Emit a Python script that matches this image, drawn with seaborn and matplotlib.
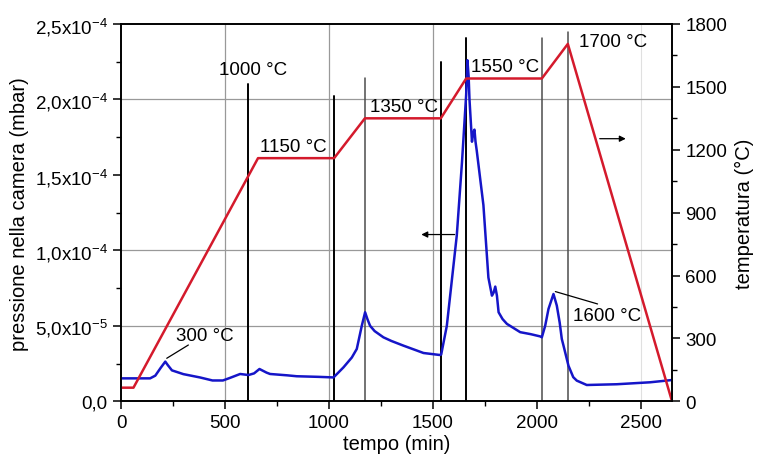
import numpy as np
import pandas as pd
import seaborn as sns
import matplotlib.pyplot as plt
from matplotlib.ticker import MultipleLocator, FuncFormatter

# pressure in the chamber (left axis, mbar)
tempo_p = [0, 140, 165, 190, 213, 225, 245, 300, 380, 440, 490, 524, 573, 613, 640, 666,
           700, 717, 800, 845, 950, 1006, 1022, 1045, 1070, 1110, 1134, 1158, 1174, 1185,
           1198, 1220, 1262, 1300, 1358, 1455, 1532, 1540, 1567, 1599, 1615, 1640, 1660,
           1666, 1672, 1676, 1688, 1694, 1700, 1705, 1711, 1743, 1767, 1784, 1792, 1800,
           1808, 1816, 1835, 1856, 1920, 1970, 2016, 2024, 2040, 2056, 2080, 2096, 2110,
           2120, 2128, 2152, 2175, 2192, 2240, 2384, 2545, 2650]
pressione = [0.152, 0.152, 0.17, 0.22, 0.263, 0.24, 0.205, 0.18, 0.158, 0.138, 0.138, 0.155,
             0.181, 0.174, 0.185, 0.214, 0.19, 0.181, 0.172, 0.166, 0.162, 0.159, 0.158,
             0.19, 0.225, 0.29, 0.347, 0.50, 0.59, 0.545, 0.50, 0.465, 0.424, 0.40, 0.369,
             0.32, 0.307, 0.31, 0.50, 0.90, 1.10, 1.585, 2.03, 2.26, 2.15, 2.0, 1.72, 1.78,
             1.80, 1.72, 1.66, 1.30, 0.82, 0.70, 0.72, 0.76, 0.70, 0.59, 0.545, 0.513,
             0.458, 0.445, 0.43, 0.424, 0.50, 0.612, 0.711, 0.634, 0.52, 0.413, 0.37,
             0.236, 0.16, 0.137, 0.108, 0.113, 0.126, 0.141]
pressione = [v * 1e-4 for v in pressione]

# temperature program (right axis, °C)
tempo_T = [0, 60, 659, 1025, 1173, 1538, 1660, 2024, 2149, 2650]
temperatura = [65, 65, 1160, 1160, 1350, 1350, 1540, 1540, 1705, 0]

# vertical marker lines: time, top (mbar), colour
linee_t = [610, 1025, 1173, 1538, 1660, 2024, 2149]
linee_top = [2.10e-4, 2.02e-4, 2.14e-4, 2.25e-4, 2.41e-4, 2.41e-4, 2.45e-4]
linee_col = ['black', 'black', '0.3', 'black', 'black', '0.3', '0.3']

# labels on the plot
etichette = ['1000 °C', '1150 °C', '1350 °C', '1550 °C', '1700 °C', '300 °C', '1600 °C']
etich_t = [634, 830, 1359, 1846, 2365, 403, 2336]
etich_p = [2.197e-4, 1.69e-4, 1.953e-4, 2.22e-4, 2.383e-4, 0.433e-4, 0.566e-4]

sns.set_style('white')
plt.rcParams['font.family'] = ['Liberation Sans', 'DejaVu Sans']
plt.rcParams['mathtext.fontset'] = 'custom'
plt.rcParams['mathtext.rm'] = 'Liberation Sans'
plt.rcParams['text.color'] = 'black'
plt.rcParams['axes.labelcolor'] = 'black'
plt.rcParams['xtick.color'] = 'black'
plt.rcParams['ytick.color'] = 'black'

rosso = '#d41a2c'
blu = '#1515c8'

fig = plt.figure(figsize=(7.57, 4.60), dpi=100)
ax = fig.add_axes([121 / 757, 57.7 / 460, 551 / 757, 377.3 / 460])
ax2 = ax.twinx()

# grid (the original has no line at 1.5e-4 nor at 2000 min)
for g in [500, 1000, 1500]:
    ax.axvline(g, color='0.6', lw=0.9, zorder=0)
ax.axvline(2500, color='0.88', lw=0.8, zorder=0)
for g in [0.5e-4, 1.0e-4, 2.0e-4]:
    ax.axhline(g, color='0.6', lw=0.9, zorder=0)

for t, top, c in zip(linee_t, linee_top, linee_col):
    ax.plot([t, t], [0, top], color=c, lw=1.4 if c == 'black' else 1.1, zorder=1)

df_p = pd.DataFrame({'tempo': tempo_p, 'pressione': pressione})
sns.lineplot(data=df_p, x='tempo', y='pressione', ax=ax, color=blu, lw=1.8, zorder=3)

df_T = pd.DataFrame({'tempo': tempo_T, 'temperatura': temperatura})
sns.lineplot(data=df_T, x='tempo', y='temperatura', ax=ax2, color=rosso, lw=1.8)

for s, t, p in zip(etichette, etich_t, etich_p):
    ax.text(t, p, s, ha='center', va='center', fontsize=13.5, zorder=5)

# leader lines
ax.plot([220, 324], [0.285e-4, 0.373e-4], color='black', lw=0.9)
ax.plot([2089, 2292], [0.727e-4, 0.645e-4], color='black', lw=0.9)

# arrows pointing to the axes
ax.annotate('', xy=(1431, 1.105e-4), xytext=(1618, 1.105e-4),
            arrowprops=dict(arrowstyle='-|>', color='black', lw=0.9, mutation_scale=9))
ax.annotate('', xy=(2441, 1.74e-4), xytext=(2289, 1.74e-4),
            arrowprops=dict(arrowstyle='-|>', color='black', lw=0.9, mutation_scale=9))

def fmt_p(v, pos):
    if v < 1e-12:
        return '0,0'
    e = int(np.floor(np.log10(v) + 1e-9))
    m = v / 10 ** e
    return ('%.1f' % m).replace('.', ',') + r'x10$^{\mathregular{%d}}$' % e

ax.set_xlim(0, 2650)
ax.set_ylim(0, 2.5e-4)
ax2.set_ylim(0, 1800)

ax.xaxis.set_major_locator(MultipleLocator(500))
ax.xaxis.set_minor_locator(MultipleLocator(250))
ax.yaxis.set_major_locator(MultipleLocator(0.5e-4))
ax.yaxis.set_minor_locator(MultipleLocator(0.25e-4))
ax.yaxis.set_major_formatter(FuncFormatter(fmt_p))
ax2.yaxis.set_major_locator(MultipleLocator(300))
ax2.yaxis.set_minor_locator(MultipleLocator(150))

for a in (ax, ax2):
    a.tick_params(which='major', direction='out', length=6, width=1.1, labelsize=13.5,
                  colors='black')
    a.tick_params(which='minor', direction='out', length=3.5, width=1.0, colors='black')
    for sp in a.spines.values():
        sp.set_linewidth(1.2)
        sp.set_color('black')
ax.tick_params(which='both', bottom=True, left=True, top=False, right=False)
ax2.tick_params(which='both', right=True, left=False)

ax.set_xlabel('tempo (min)', fontsize=14.5, labelpad=2)
ax.set_ylabel('pressione nella camera (mbar)', fontsize=14.5, labelpad=4)
ax2.set_ylabel('temperatura (°C)', fontsize=14.5, labelpad=6)

plt.savefig('out.png', dpi=100)
